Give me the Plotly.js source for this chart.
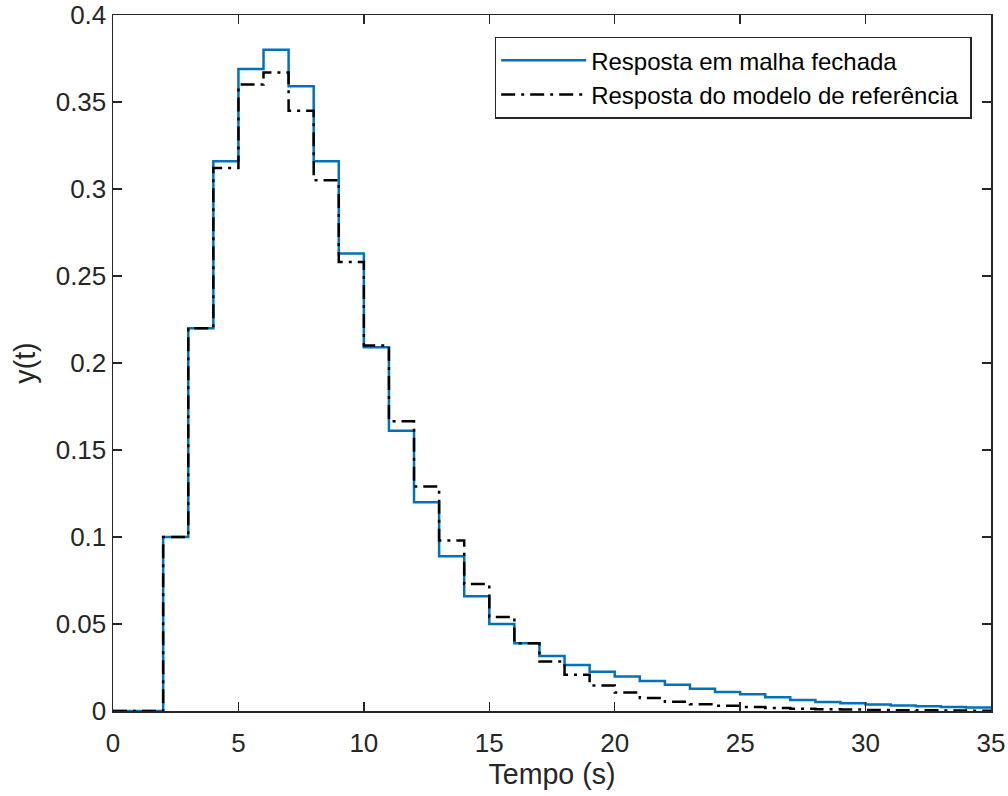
<!DOCTYPE html>
<html>
<head>
<meta charset="utf-8">
<script src="https://cdn.plot.ly/plotly-3.0.1.min.js"></script>
<style>html,body{margin:0;padding:0;background:#fff;}#chart{width:1008px;height:796px;}</style>
</head>
<body>
<div id="chart"></div>
<script>
const t = [0,1,2,3,4,5,6,7,8,9,10,11,12,13,14,15,16,17,18,19,20,21,22,23,24,25,26,27,28,29,30,31,32,33,34,35];
const closedLoop = [0,0,0.1,0.22,0.316,0.369,0.380,0.359,0.316,0.263,0.209,0.161,0.120,0.089,0.066,0.050,0.039,0.0316,0.0264,0.0226,0.0198,0.0172,0.0151,0.0128,0.0109,0.0096,0.0079,0.0063,0.0052,0.0044,0.0038,0.0031,0.0027,0.0023,0.0020,0.0018];
const referenceModel = [0,0,0.1,0.22,0.312,0.360,0.367,0.345,0.305,0.258,0.210,0.1665,0.129,0.098,0.073,0.054,0.039,0.0284,0.0208,0.0147,0.0106,0.0075,0.0053,0.0039,0.0030,0.0023,0.0017,0.0013,0.0010,0.0008,0.0006,0.0005,0.0004,0.0003,0.0002,0.0002];
const seriesNames = ['Resposta em malha fechada','Resposta do modelo de referência'];
const xTicks = [0,5,10,15,20,25,30,35];
const yTicks = [0,0.05,0.1,0.15,0.2,0.25,0.3,0.35,0.4];
const yTickText = ['0','0.05','0.1','0.15','0.2','0.25','0.3','0.35','0.4'];

const font = 'Liberation Sans, Arial, Helvetica, sans-serif';
const ink = '#262626';

const traces = [
  {x:t, y:closedLoop, name:seriesNames[0] + '\u00a0', type:'scatter', mode:'lines',
   line:{shape:'hv', color:'#0072BD', width:2.5}},
  {x:t, y:referenceModel, name:seriesNames[1] + '\u00a0', type:'scatter', mode:'lines',
   line:{shape:'hv', color:'#000000', width:2.5, dash:'14px,6px,3px,6px'}}
];

const axisCommon = {
  showgrid:false, zeroline:false, showline:true, linecolor:ink, linewidth:1.5,
  mirror:'ticks', ticks:'inside', ticklen:9, tickwidth:1.5, tickcolor:ink,
  tickfont:{family:font, size:26, color:ink}, automargin:false
};

const layout = {
  width:1008, height:796,
  margin:{l:113, r:17, t:15, b:85},
  paper_bgcolor:'#fff', plot_bgcolor:'#fff',
  showlegend:true,
  xaxis:Object.assign({}, axisCommon, {
    range:[0,35], tickvals:xTicks, ticktext:xTicks.map(String), ticklabelstandoff:8,
    title:{text:'Tempo (s)', font:{family:font, size:28.6, color:ink}, standoff:7}
  }),
  yaxis:Object.assign({}, axisCommon, {
    range:[0,0.4], tickvals:yTicks, ticktext:yTickText,
    title:{text:'y(t)', font:{family:font, size:28.6, color:ink}, standoff:11}
  }),
  legend:{
    x:0.978, xanchor:'right', y:0.969, yanchor:'top',
    bgcolor:'#fff', bordercolor:ink, borderwidth:1.5,
    font:{family:font, size:24, color:'#000'}, itemwidth:85
  }
};

Plotly.newPlot('chart', traces, layout, {displayModeBar:false, staticPlot:true});
</script>
</body>
</html>
